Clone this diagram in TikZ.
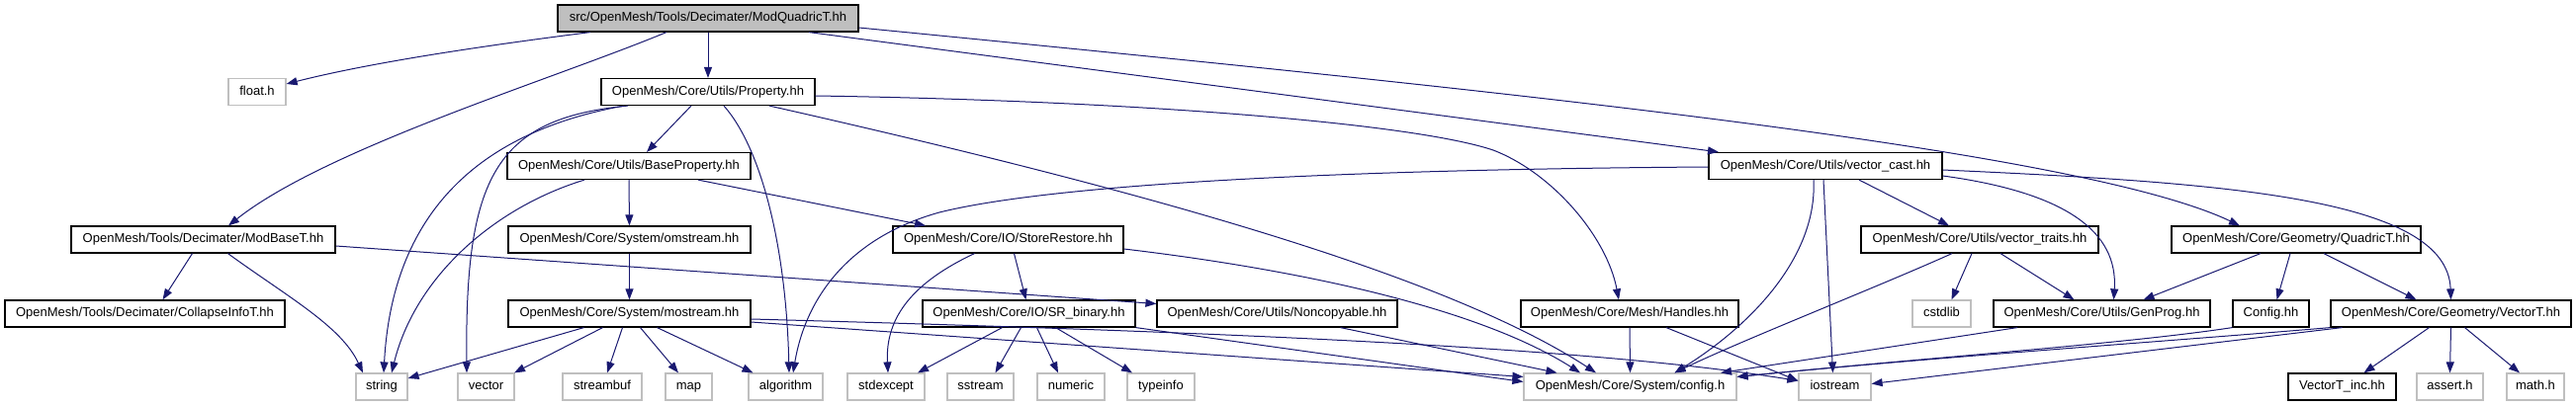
\documentclass[tikz,border=0pt]{standalone}
\usepackage{fontspec}
\setmainfont{Liberation Sans}
\usetikzlibrary{arrows.meta}
\definecolor{edgecol}{HTML}{191970}
\definecolor{grayb}{HTML}{BFBFBF}
\begin{document}
\begin{tikzpicture}[x=1pt,y=-1pt,
  box/.style={draw=black,line width=1.2pt,minimum height=27pt,inner sep=0pt,
    font=\fontsize{13}{15}\selectfont,text height=9.5pt,text depth=2.5pt,anchor=center},
  ext/.style={box,draw=grayb},
  rootbox/.style={box,fill=grayb},
  e/.style={draw=edgecol,line width=1pt,-{Triangle[length=11pt,width=8pt]}}
]
\useasboundingbox (0,0) rectangle (2605,411);
% row 1
\node[rootbox,minimum width=304pt] (root) at (716,18.5) {src/OpenMesh/Tools/Decimater/ModQuadricT.hh};
% row 2
\node[ext,minimum width=58pt] (floath) at (260,93) {float.h};
\node[box,minimum width=216pt] (prop) at (716,93) {OpenMesh/Core/Utils/Property.hh};
% row 3
\node[box,minimum width=246pt] (baseprop) at (636,168) {OpenMesh/Core/Utils/BaseProperty.hh};
\node[box,minimum width=236pt] (vcast) at (1846,168) {OpenMesh/Core/Utils/vector\_cast.hh};
% row 4
\node[box,minimum width=267pt] (modbase) at (205.5,242.5) {OpenMesh/Tools/Decimater/ModBaseT.hh};
\node[box,minimum width=245pt] (omstream) at (636.5,242.5) {OpenMesh/Core/System/omstream.hh};
\node[box,minimum width=233pt] (storerestore) at (1019.5,242.5) {OpenMesh/Core/IO/StoreRestore.hh};
\node[box,minimum width=240pt] (vtraits) at (2002,242.5) {OpenMesh/Core/Utils/vector\_traits.hh};
\node[box,minimum width=252pt] (quadric) at (2322,242.5) {OpenMesh/Core/Geometry/QuadricT.hh};
% row 5
\node[box,minimum width=283pt] (collapse) at (146.5,317.5) {OpenMesh/Tools/Decimater/CollapseInfoT.hh};
\node[box,minimum width=245pt] (mostream) at (636.5,317.5) {OpenMesh/Core/System/mostream.hh};
\node[box,minimum width=215pt] (srbinary) at (1040.5,317.5) {OpenMesh/Core/IO/SR\_binary.hh};
\node[box,minimum width=243pt] (noncopy) at (1291.5,317.5) {OpenMesh/Core/Utils/Noncopyable.hh};
\node[box,minimum width=220pt] (handles) at (1648,317.5) {OpenMesh/Core/Mesh/Handles.hh};
\node[ext,minimum width=59pt] (cstdlib) at (1963.5,317.5) {cstdlib};
\node[box,minimum width=219pt] (genprog) at (2125.5,317.5) {OpenMesh/Core/Utils/GenProg.hh};
\node[box,minimum width=77pt] (confighh) at (2296.5,317.5) {Config.hh};
\node[box,minimum width=243pt] (vectort) at (2478.5,317.5) {OpenMesh/Core/Geometry/VectorT.hh};
% row 6
\node[ext,minimum width=52pt] (string) at (386,391.5) {string};
\node[ext,minimum width=57pt] (vector) at (491.5,391.5) {vector};
\node[ext,minimum width=80pt] (streambuf) at (609,391.5) {streambuf};
\node[ext,minimum width=47pt] (map) at (696.5,391.5) {map};
\node[ext,minimum width=75pt] (algorithm) at (794.5,391.5) {algorithm};
\node[ext,minimum width=78pt] (stdexcept) at (896,391.5) {stdexcept};
\node[ext,minimum width=67pt] (sstream) at (991.5,391.5) {sstream};
\node[ext,minimum width=68pt] (numeric) at (1083,391.5) {numeric};
\node[ext,minimum width=68pt] (typeinfo) at (1174,391.5) {typeinfo};
\node[ext,minimum width=215pt] (configh) at (1648.5,391.5) {OpenMesh/Core/System/config.h};
\node[ext,minimum width=73pt] (iostream) at (1855.5,391.5) {iostream};
\node[box,minimum width=109pt] (vinc) at (2368.5,391.5) {VectorT\_inc.hh};
\node[ext,minimum width=67pt] (assert) at (2477.5,391.5) {assert.h};
\node[ext,minimum width=58pt] (math) at (2564,391.5) {math.h};

% root edges
\draw[e] ([xshift=-119pt]root.south) .. controls (500,45) and (380,62) .. ([yshift=8pt]floath.east);
\draw[e] (root.south) -- (prop.north);
\draw[e] ([xshift=-42pt]root.south) .. controls (560,80) and (330,150) .. ([xshift=25.5pt]modbase.north);
\draw[e] ([xshift=102pt]root.south) -- ([xshift=-108pt]vcast.north);
\draw[e] ([yshift=-9.5pt]root.east) .. controls (1500,90) and (2100,150) .. ([xshift=-57pt]quadric.north);
% Property edges
\draw[e] ([xshift=-17pt]prop.south) -- ([xshift=18pt]baseprop.north);
\draw[e] ([xshift=-85pt]prop.south) .. controls (450,140) and (395,250) .. ([xshift=2pt]string.north);
\draw[e] ([xshift=-81pt]prop.south) .. controls (500,120) and (470,180) .. ([xshift=-19.5pt]vector.north);
\draw[e] ([xshift=16pt]prop.south) .. controls (770,150) and (795,250) .. ([xshift=3.5pt]algorithm.north);
\draw[e] ([yshift=-4pt]prop.east) .. controls (1150,102) and (1430,125) .. (1510,152)
   .. controls (1570,175) and (1625,240) .. ([xshift=-11pt]handles.north);
\draw[e] ([xshift=62pt]prop.south) .. controls (1100,180) and (1450,270) .. ([xshift=-34.5pt]configh.north);
% BaseProperty edges
\draw[e] ([xshift=-45pt]baseprop.south) .. controls (500,210) and (420,280) .. ([xshift=10pt]string.north);
\draw[e] (baseprop.south) -- (omstream.north);
\draw[e] ([xshift=70pt]baseprop.south) -- ([xshift=-83.5pt]storerestore.north);
% omstream / mostream
\draw[e] (omstream.south) -- (mostream.north);
\draw[e] ([xshift=-46pt]mostream.south) -- ([yshift=8.5pt]string.east);
\draw[e] ([xshift=-27pt]mostream.south) -- ([xshift=28.5pt]vector.north);
\draw[e] ([xshift=-7pt]mostream.south) -- ([xshift=5pt]streambuf.north);
\draw[e] ([xshift=11pt]mostream.south) -- ([xshift=-10.5pt]map.north);
\draw[e] ([xshift=28pt]mostream.south) -- ([xshift=-33pt]algorithm.north);
\draw[e] ([yshift=-8.5pt]mostream.east) -- ([yshift=10pt]configh.west);
\draw[e] ([yshift=-5.5pt]mostream.east) .. controls (1200,335) and (1600,350) .. ([yshift=6pt]iostream.west);
% ModBaseT
\draw[e] ([xshift=-11pt]modbase.south) -- ([xshift=18pt]collapse.north);
\draw[e] ([xshift=25pt]modbase.south) .. controls (290,300) and (345,330) .. ([xshift=-19pt]string.north);
\draw[e] ([yshift=-6.5pt]modbase.east) -- ([yshift=10pt]noncopy.west);
% StoreRestore
\draw[e] ([xshift=-34pt]storerestore.south) .. controls (925,285) and (895,320) .. ([xshift=2pt]stdexcept.north);
\draw[e] ([xshift=6pt]storerestore.south) -- ([xshift=-3pt]srbinary.north);
\draw[e] ([yshift=-9.5pt]storerestore.east) .. controls (1330,275) and (1500,315) .. ([xshift=-50.5pt]configh.north);
% SR_binary
\draw[e] ([xshift=-27pt]srbinary.south) -- ([xshift=32pt]stdexcept.north);
\draw[e] ([xshift=-8pt]srbinary.south) -- ([xshift=15pt]sstream.north);
\draw[e] ([xshift=8pt]srbinary.south) -- ([xshift=-13pt]numeric.north);
\draw[e] ([xshift=27pt]srbinary.south) -- ([xshift=-29pt]typeinfo.north);
\draw[e] (srbinary.south east) -- ([yshift=5pt]configh.west);
% Noncopyable, Handles
\draw[e] ([xshift=64pt]noncopy.south) -- ([xshift=-74pt]configh.north);
\draw[e] (handles.south) -- (configh.north);
\draw[e] ([xshift=37pt]handles.south) -- ([yshift=6pt]iostream.west);
% vector_cast
\draw[e] ([yshift=-1pt]vcast.west) .. controls (1300,172) and (1050,190) .. (950,215)
   .. controls (860,240) and (815,300) .. ([xshift=7.5pt]algorithm.north);
\draw[e] ([xshift=-12pt]vcast.south) .. controls (1838,260) and (1770,330) .. ([xshift=45pt]configh.north);
\draw[e] ([xshift=-2pt]vcast.south) -- ([xshift=-2pt]iostream.north);
\draw[e] ([xshift=34pt]vcast.south) -- ([xshift=-31pt]vtraits.north);
\draw[e] ([yshift=-10pt]vcast.east) .. controls (2090,195) and (2142,235) .. ([xshift=12pt]genprog.north);
\draw[e] ([yshift=-4pt]vcast.east) .. controls (2250,185) and (2475,200) .. (vectort.north);
% vector_traits
\draw[e] ([xshift=-28pt]vtraits.south) .. controls (1900,290) and (1760,345) .. ([xshift=45pt]configh.north);
\draw[e] ([xshift=-8pt]vtraits.south) -- ([xshift=10pt]cstdlib.north);
\draw[e] ([xshift=21pt]vtraits.south) -- ([xshift=-28pt]genprog.north);
% QuadricT
\draw[e] ([xshift=-36pt]quadric.south) -- ([xshift=42pt]genprog.north);
\draw[e] ([xshift=-6pt]quadric.south) -- ([xshift=6pt]confighh.north);
\draw[e] ([xshift=28pt]quadric.south) -- ([xshift=-35pt]vectort.north);
% GenProg, Config.hh
\draw[e] ([xshift=-85.5pt]genprog.south) -- ([xshift=91.5pt]configh.north);
\draw[e] (confighh.south west) .. controls (2150,348) and (1950,362) .. ([yshift=10pt]configh.east);
% VectorT
\draw[e] (vectort.south west) .. controls (2200,345) and (1950,362) .. ([yshift=10pt]configh.east);
\draw[e] ([xshift=-110pt]vectort.south) -- ([yshift=3pt]iostream.east);
\draw[e] ([xshift=-22pt]vectort.south) -- ([xshift=22pt]vinc.north);
\draw[e] (vectort.south) -- (assert.north);
\draw[e] ([xshift=14pt]vectort.south) -- ([xshift=-16pt]math.north);
\end{tikzpicture}
\end{document}
